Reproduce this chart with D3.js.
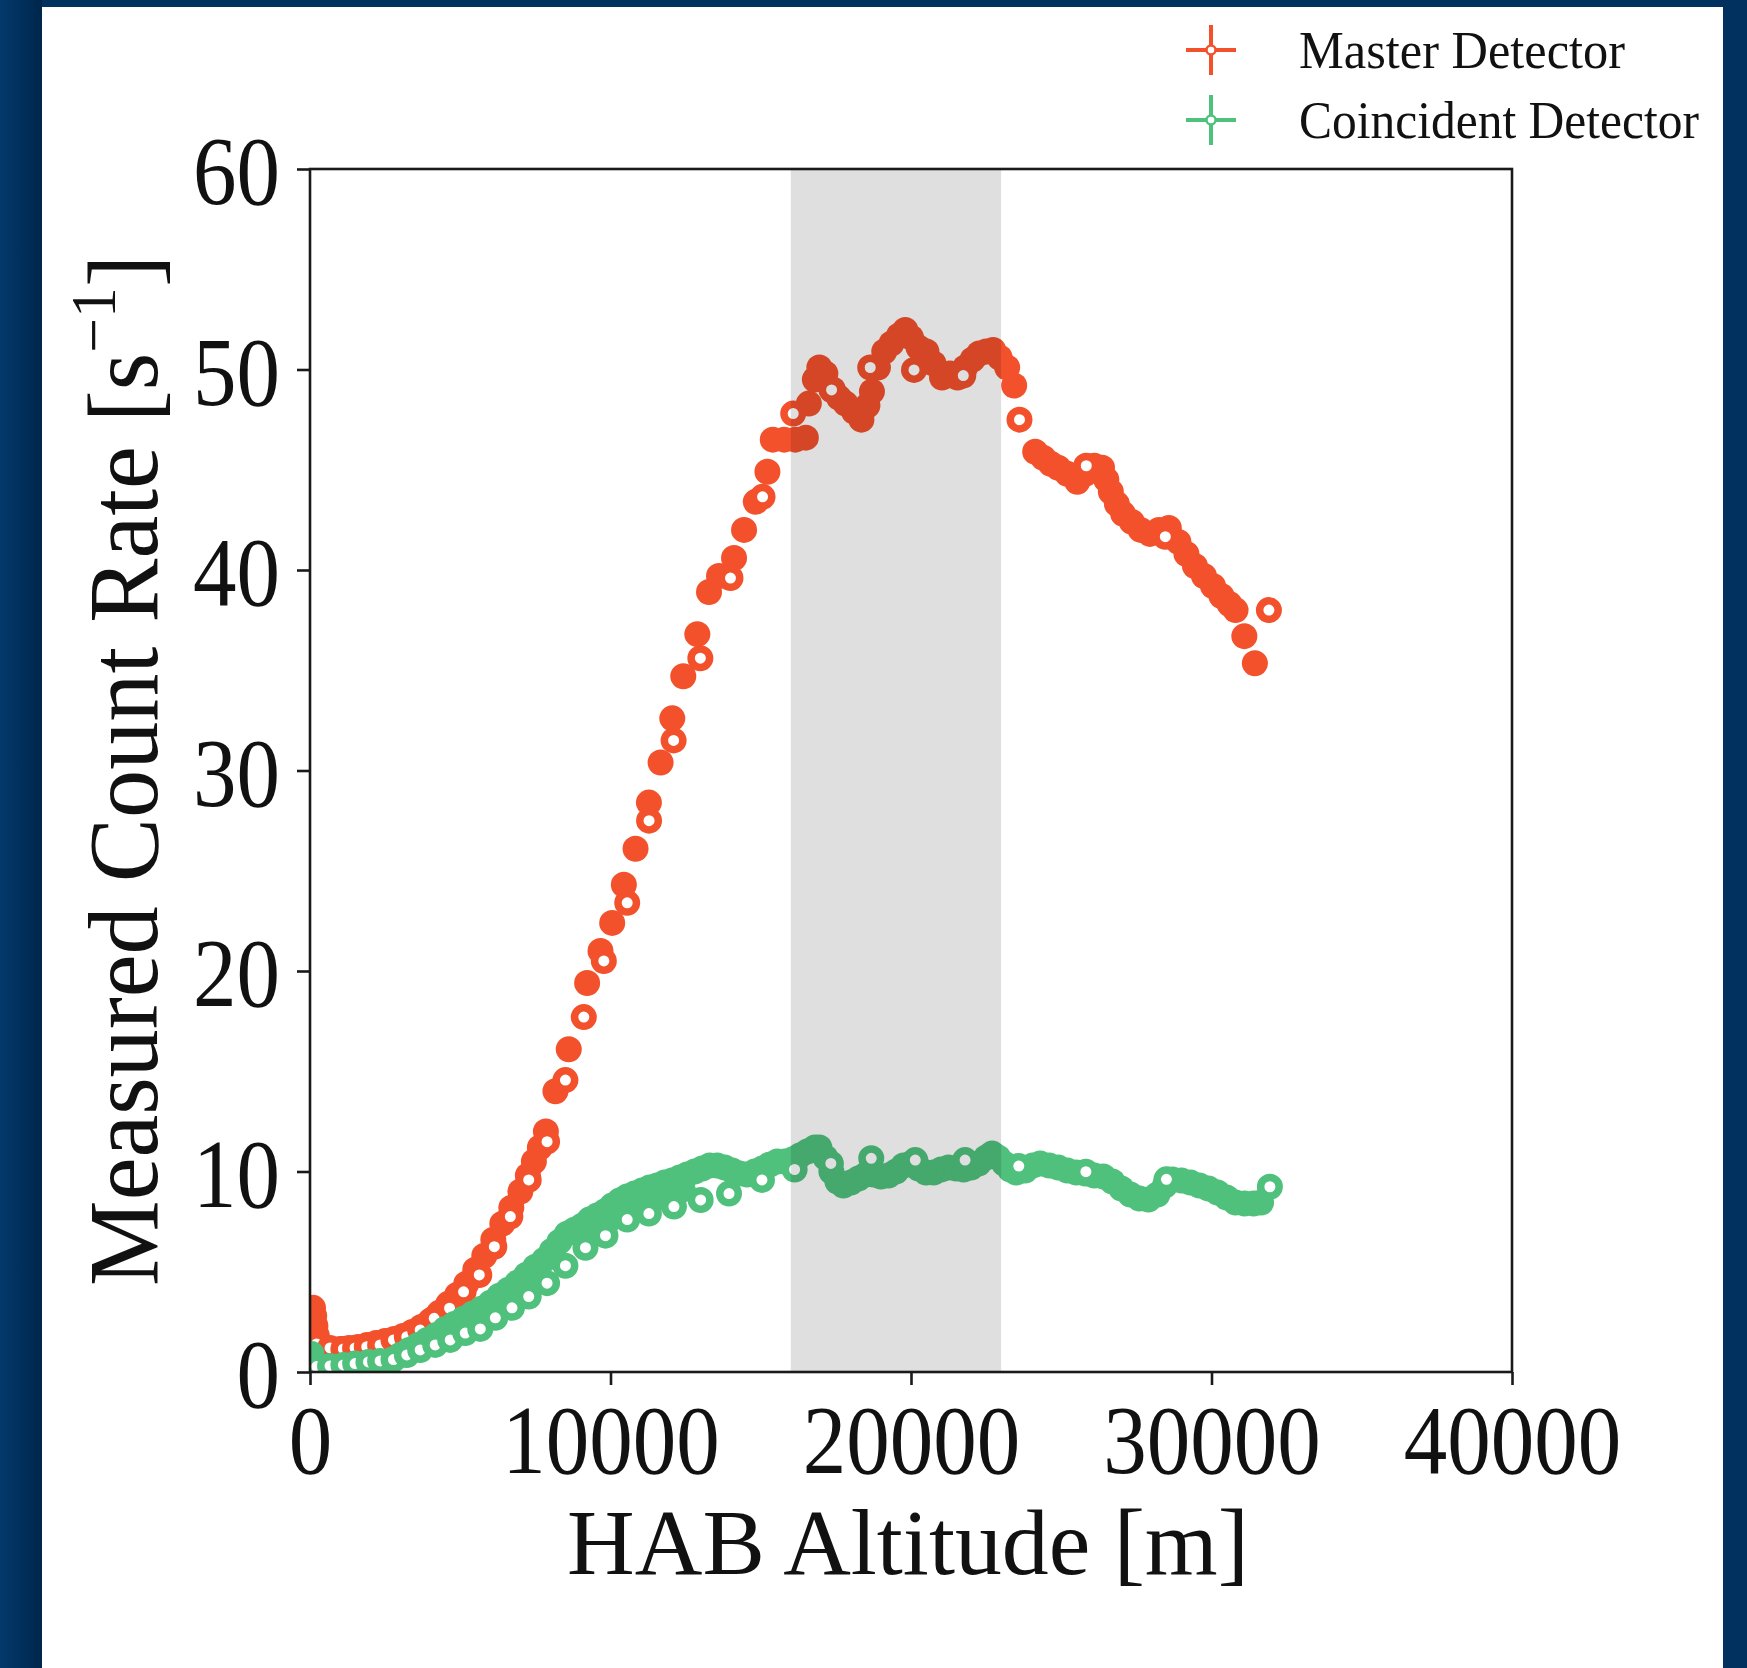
<!DOCTYPE html>
<html><head><meta charset="utf-8">
<script src="https://cdn.jsdelivr.net/npm/d3@7"></script>
<style>html,body{margin:0;padding:0;background:#01325f;} svg{display:block;}</style>
</head><body><svg id="c" width="1747" height="1668"></svg>
<script>
// ---------------- data ----------------
const xTicks = [0, 10000, 20000, 30000, 40000];
const yTicks = [0, 10, 20, 30, 40, 50, 60];
const seriesNames = ["Master Detector", "Coincident Detector"];
const shadedRange = [16000, 23000];

const masterFilled = [
[100,3.2],[140,2.8],[180,2.3],[230,1.8],[300,1.45],[450,1.25],[700,1.15],[1000,1.15],[1300,1.2],[1600,1.25],[1900,1.35],[2200,1.45],[2500,1.55],[2800,1.65],[3100,1.8],[3400,2.0],[3700,2.25],[4000,2.55],[4300,2.95],[4600,3.4],[4900,3.85],[5200,4.4],[5500,5.1],[5800,5.8],[6100,6.6],[6400,7.4],[6700,8.2],[7000,9.0],[7250,9.8],[7450,10.5],[7650,11.2],[7850,12.0],[8167,14.0],[8611,16.1],[9222,19.4],[9667,21.0],[10056,22.4],[10444,24.3],[10833,26.1],[11278,28.4],[11667,30.4],[12056,32.6],[12422,34.7],[12889,36.8],[13278,38.9],[13611,39.7],[14111,40.6],[14444,42.0],[14833,43.4],[15222,44.9],[15400,46.5],[15780,46.5],[16150,46.5],[16500,46.6],[16600,48.3],[16800,49.5],[16950,50.1],[17150,49.8],[17400,49.0],[17600,48.6],[17823,48.3],[18100,47.9],[18350,47.5],[18550,48.2],[18700,48.9],[18900,50.1],[19110,50.9],[19350,51.3],[19600,51.7],[19810,51.97],[20000,51.6],[20250,51.1],[20513,50.9],[20750,50.3],[21033,49.6],[21300,49.8],[21550,49.6],[21800,50.1],[22050,50.5],[22267,50.8],[22500,50.9],[22733,50.97],[22950,50.6],[23200,50.1],[23433,49.2],[24133,45.9],[24400,45.6],[24650,45.3],[24900,45.1],[25200,44.8],[25533,44.4],[25800,44.8],[26100,45.2],[26357,45.1],[26500,44.5],[26650,43.9],[26850,43.3],[27060,42.8],[27350,42.4],[27643,42.0],[27950,41.8],[28250,42.0],[28580,42.1],[28900,41.4],[29167,40.8],[29450,40.2],[29750,39.7],[30050,39.2],[30333,38.7],[30600,38.3],[30800,38.0],[31093,36.7],[31443,35.35]
];
const masterOpen = [
[220,1.4],[667,1.2],[1111,1.15],[1500,1.2],[1889,1.26],[2333,1.35],[2778,1.6],[3222,1.76],[3667,2.1],[4133,2.68],[4644,3.18],[5111,4.0],[5633,4.84],[6133,6.25],[6667,7.75],[7278,9.58],[7889,11.49],[8500,14.56],[9111,17.7],[9778,20.5],[10556,23.4],[11283,27.5],[12100,31.5],[12990,35.6],[13993,39.6],[15060,43.65],[16080,47.8],[17357,48.98],[18643,50.1],[20100,49.98],[21740,49.7],[23610,47.5],[25833,45.2],[28463,41.66],[31910,38.0]
];
const coincFilled = [
[50,0.9],[80,0.55],[120,0.3],[300,0.2],[600,0.22],[900,0.25],[1200,0.25],[1500,0.27],[1800,0.3],[2100,0.33],[2400,0.4],[2700,0.6],[3000,0.85],[3300,1.1],[3600,1.35],[3900,1.6],[4200,1.85],[4500,2.15],[4800,2.4],[5100,2.65],[5400,2.9],[5700,3.15],[6000,3.45],[6300,3.8],[6600,4.1],[6900,4.45],[7200,4.85],[7500,5.25],[7800,5.6],[8050,6.05],[8300,6.5],[8550,6.9],[8800,7.1],[9050,7.3],[9300,7.6],[9550,7.8],[9800,8.0],[10050,8.3],[10300,8.55],[10550,8.75],[10800,8.9],[11050,9.05],[11300,9.2],[11550,9.3],[11800,9.45],[12050,9.55],[12300,9.7],[12550,9.85],[12800,10.0],[13050,10.15],[13300,10.3],[13550,10.3],[13800,10.2],[14050,10.05],[14300,9.9],[14550,9.85],[14800,10.0],[15050,10.15],[15300,10.35],[15550,10.5],[15800,10.5],[16050,10.6],[16300,10.8],[16550,11.0],[16800,11.2],[16950,11.2],[17150,10.7],[17350,10.0],[17550,9.5],[17750,9.3],[18000,9.45],[18250,9.65],[18500,9.85],[18750,9.85],[19000,9.75],[19250,9.8],[19500,10.0],[19750,10.3],[20000,10.4],[20250,10.15],[20500,9.95],[20750,9.95],[21000,10.1],[21250,10.2],[21500,10.15],[21750,10.1],[22000,10.2],[22250,10.4],[22500,10.7],[22700,10.9],[22900,10.7],[23100,10.4],[23300,10.1],[23500,9.95],[23800,10.05],[24050,10.3],[24300,10.4],[24600,10.3],[24900,10.2],[25200,10.05],[25500,9.95],[25800,9.9],[26100,9.8],[26400,9.75],[26700,9.5],[27000,9.15],[27300,8.85],[27600,8.65],[27900,8.6],[28200,8.85],[28450,9.3],[28700,9.6],[29000,9.55],[29300,9.45],[29600,9.3],[29900,9.15],[30200,8.95],[30500,8.7],[30800,8.45],[31100,8.4],[31400,8.4],[31650,8.45],
[9400,7.2],[9900,7.5],[10400,7.95],[10900,8.3],[11400,8.55],[11900,8.8],[12400,9.1]
];
const coincOpen = [
[222,0.27],[667,0.3],[1111,0.35],[1500,0.42],[1944,0.5],[2333,0.55],[2778,0.62],[3222,0.85],[3667,1.1],[4167,1.35],[4667,1.6],[5167,1.94],[5667,2.15],[6167,2.7],[6722,3.2],[7278,3.76],[7889,4.43],[8500,5.3],[9167,6.2],[9833,6.8],[10556,7.6],[11278,7.9],[12111,8.25],[13000,8.58],[13944,8.9],[15040,9.58],[16127,10.1],[17333,10.4],[18677,10.66],[20143,10.57],[21800,10.57],[23587,10.27],[25820,9.99],[28500,9.61],[31943,9.24]
];
const colors = ["#f3512c", "#4fc17c"];

// ---------------- drawing ----------------
const W = 1747, H = 1668;
const svg = d3.select("#c");
const FONT = "'Liberation Serif', 'Times New Roman', serif";
const INK = "#111";

const defs = svg.append("defs");
const lg = defs.append("linearGradient").attr("id", "edgeL").attr("x1", 0).attr("x2", 1);
lg.append("stop").attr("offset", 0).attr("stop-color", "#033a6c");
lg.append("stop").attr("offset", 1).attr("stop-color", "#00264b");
svg.append("rect").attr("width", W).attr("height", H).attr("fill", "#01315e");
svg.append("rect").attr("width", 42).attr("height", H).attr("fill", "url(#edgeL)");
svg.append("rect").attr("x", 42).attr("y", 7).attr("width", 1681).attr("height", H - 7).attr("fill", "#ffffff");

const x = d3.scaleLinear().domain([0, 40000]).range([310, 1512]);
const y = d3.scaleLinear().domain([0, 60]).range([1372, 169]);

defs.append("clipPath").attr("id", "plotclip").append("rect")
  .attr("x", x(0)).attr("y", y(60)).attr("width", x(40000) - x(0)).attr("height", y(0) - y(60));

const plot = svg.append("g").attr("clip-path", "url(#plotclip)");
const R = 13, HOLE = 5.5;

function filled(data, col) {
  plot.append("g").selectAll("circle").data(data).join("circle")
    .attr("cx", d => x(d[0])).attr("cy", d => y(d[1])).attr("r", R).attr("fill", col);
}
function open(data, col) {
  plot.append("g").selectAll("circle").data(data).join("circle")
    .attr("cx", d => x(d[0])).attr("cy", d => y(d[1])).attr("r", (R + HOLE) / 2)
    .attr("fill", "#fff").attr("stroke", col).attr("stroke-width", R - HOLE);
}
filled(masterFilled, colors[0]);
open(masterOpen, colors[0]);
filled(coincFilled, colors[1]);
open(coincOpen, colors[1]);

// shaded band (semi-transparent, over the markers)
plot.append("rect")
  .attr("x", x(shadedRange[0])).attr("width", x(shadedRange[1]) - x(shadedRange[0]))
  .attr("y", y(60)).attr("height", y(0) - y(60))
  .attr("fill", "#000").attr("fill-opacity", 0.125);

// frame
svg.append("rect").attr("x", x(0)).attr("y", y(60))
  .attr("width", x(40000) - x(0)).attr("height", y(0) - y(60))
  .attr("fill", "none").attr("stroke", "#1a1a1a").attr("stroke-width", 2.6);

// axes
const gx = svg.append("g").attr("transform", `translate(0,${y(0)})`)
  .call(d3.axisBottom(x).tickValues(xTicks).tickSize(13).tickSizeOuter(0).tickFormat(d => String(d)));
gx.select(".domain").remove();
gx.selectAll(".tick line").attr("stroke", "#1a1a1a").attr("stroke-width", 2.6);
gx.selectAll(".tick text")
  .attr("y", 101).attr("dy", null)
  .attr("font-family", FONT).attr("font-size", 98).attr("fill", INK)
  .attr("textLength", d => String(d).length * 43.5).attr("lengthAdjust", "spacingAndGlyphs");

const gy = svg.append("g").attr("transform", `translate(${x(0)},0)`)
  .call(d3.axisLeft(y).tickValues(yTicks).tickSize(13).tickSizeOuter(0).tickFormat(d => String(d)));
gy.select(".domain").remove();
gy.selectAll(".tick line").attr("stroke", "#1a1a1a").attr("stroke-width", 2.6);
gy.selectAll(".tick text")
  .attr("x", -30).attr("y", 34.5).attr("dy", null)
  .attr("font-family", FONT).attr("font-size", 98).attr("fill", INK)
  .attr("textLength", d => String(d).length * 43.5).attr("lengthAdjust", "spacingAndGlyphs");

// axis titles
function fitWidth(textSel, target) {
  const w = textSel.node().getBBox().width;
  textSel.attr("transform", `scale(${target / w},1)`);
}
const xt = svg.append("g").attr("transform", `translate(${(x(0) + x(40000)) / 2 - 3},1574)`)
  .append("text").attr("text-anchor", "middle")
  .attr("font-family", FONT).attr("font-size", 94).attr("fill", INK)
  .text("HAB Altitude [m]");
fitWidth(xt, 682);

const yt = svg.append("g").attr("transform", `translate(157,${(y(0) + y(60)) / 2})rotate(-90)`)
  .append("text").attr("text-anchor", "middle")
  .attr("font-family", FONT).attr("font-size", 100).attr("fill", INK);
yt.append("tspan").text("Measured Count Rate [s");
yt.append("tspan").attr("dy", -42).attr("font-size", 64).text("\u22121");
yt.append("tspan").attr("dy", 42).text("]");
fitWidth(yt, 1031);

// legend
const leg = svg.append("g");
const legY = [50, 120];
seriesNames.forEach((name, i) => {
  const g = leg.append("g").attr("transform", `translate(1211,${legY[i]})`);
  g.append("line").attr("x1", -25).attr("x2", 25).attr("stroke", colors[i]).attr("stroke-width", 4);
  g.append("line").attr("y1", -25).attr("y2", 25).attr("stroke", colors[i]).attr("stroke-width", 4);
  g.append("circle").attr("r", 4.5).attr("fill", "#fff").attr("stroke", colors[i]).attr("stroke-width", 2.5);
  leg.append("text").attr("x", 1299).attr("y", legY[i] + 18)
    .attr("font-family", FONT).attr("font-size", 52).attr("fill", INK)
    .attr("textLength", i === 0 ? 326 : 400).attr("lengthAdjust", "spacingAndGlyphs")
    .text(name);
});
</script>
</body></html>
